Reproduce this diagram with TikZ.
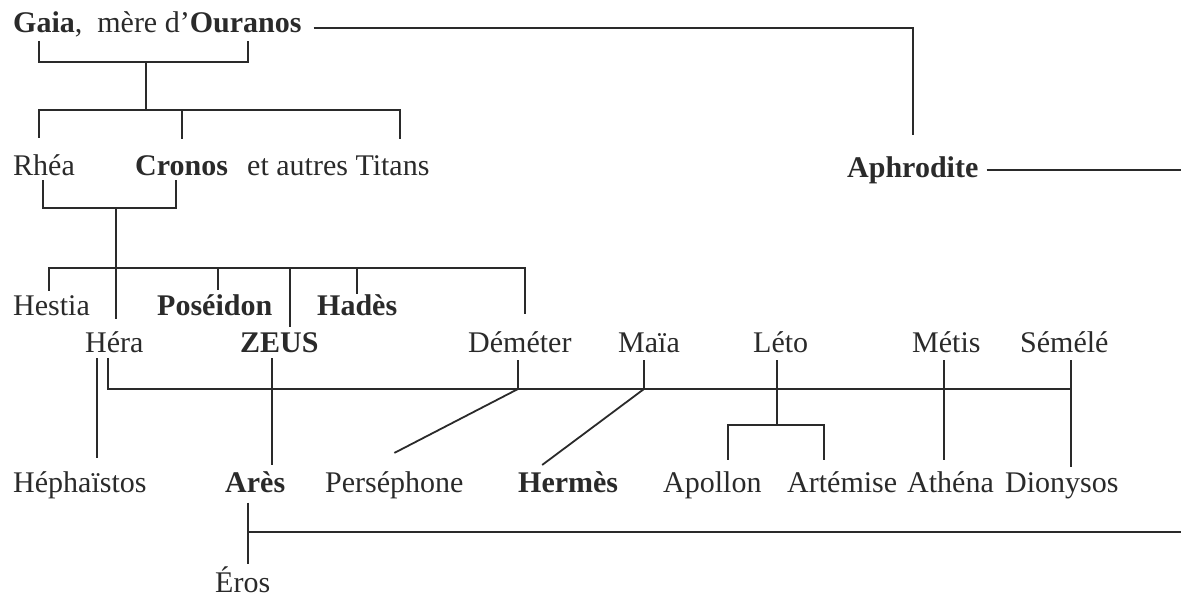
\documentclass[tikz,border=0pt]{standalone}
\usepackage{fontspec}
\setmainfont{Liberation Serif}
\definecolor{ink}{HTML}{2A2A2A}
\tikzstyle{nom}=[inner sep=0pt, anchor=base west, text=ink, font=\fontsize{30}{36}\selectfont]
\tikzstyle{lien}=[draw=ink, line width=1.8pt]

\begin{document}
\begin{tikzpicture}[x=1pt, y=-1pt]
  \useasboundingbox (0,0) rectangle (1181,600);
  \node[nom] (gaia) at (13,32) {\textbf{Gaia},\hspace{0.5em}mère d’\textbf{Ouranos}};
  \node[nom] (rhea) at (13,175) {Rhéa};
  \node[nom] (cronos) at (135,175) {\textbf{Cronos}};
  \node[nom] (titans) at (247,175) {et autres Titans};
  \node[nom] (aphrodite) at (847,177) {\textbf{Aphrodite}};
  \node[nom] (hestia) at (13,315) {Hestia};
  \node[nom] (poseidon) at (157,315) {\textbf{Poséidon}};
  \node[nom] (hades) at (317,315) {\textbf{Hadès}};
  \node[nom] (hera) at (85,352) {Héra};
  \node[nom] (zeus) at (240,352) {\textbf{ZEUS}};
  \node[nom] (demeter) at (468,352) {Déméter};
  \node[nom] (maia) at (618,352) {Maïa};
  \node[nom] (leto) at (753,352) {Léto};
  \node[nom] (metis) at (912,352) {Métis};
  \node[nom] (semele) at (1020,352) {Sémélé};
  \node[nom] (hephaistos) at (13,492) {Héphaïstos};
  \node[nom] (ares) at (225,492) {\textbf{Arès}};
  \node[nom] (persephone) at (325,492) {Perséphone};
  \node[nom] (hermes) at (518,492) {\textbf{Hermès}};
  \node[nom] (apollon) at (663,492) {Apollon};
  \node[nom] (artemise) at (787,492) {Artémise};
  \node[nom] (athena) at (907,492) {Athéna};
  \node[nom] (dionysos) at (1005,492) {Dionysos};
  \node[nom] (eros) at (215,592) {Éros};

  \coordinate (u1) at (39,62);  \coordinate (u2) at (248,62);  \coordinate (um) at (146,62);
  \coordinate (t1) at (39,110); \coordinate (t2) at (182,110); \coordinate (t3) at (400,110); \coordinate (tm) at (146,110);
  \coordinate (r1) at (43,208); \coordinate (r2) at (176,208); \coordinate (rm) at (116,208);
  \coordinate (c1) at (49,268); \coordinate (c2) at (218,268); \coordinate (c3) at (290,268);
  \coordinate (c4) at (357,268); \coordinate (c5) at (525,268);
  \coordinate (z0) at (97,389); \coordinate (z1) at (108,389); \coordinate (z2) at (272,389);
  \coordinate (z3) at (518,389); \coordinate (z4) at (644,389); \coordinate (z5) at (777,389);
  \coordinate (z6) at (944,389); \coordinate (z7) at (1071,389);
  \coordinate (l1) at (728,425); \coordinate (l2) at (824,425); \coordinate (lm) at (777,425);
  \coordinate (e1) at (248,532); \coordinate (e2) at (1181,532);
  \coordinate (a2) at (1181,168);

  \draw[lien, shorten <=12pt, shorten >=21pt] ([yshift=-4pt]gaia.east) -| (aphrodite.north);
  \draw[lien, shorten <=4pt, shorten >=4pt] (u1 |- gaia.south) -- (u1) -- (u2) -- (u2 |- gaia.south);
  \draw[lien] (um) -- (tm);
  \draw[lien, shorten <=16pt, shorten >=16pt] (t1 |- rhea.north) -- (t1) -- (t3) -- (t3 |- titans.north);
  \draw[lien, shorten >=16pt] (t2) -- (t2 |- cronos.north);
  \draw[lien, shorten <=5pt, shorten >=5pt] (r1 |- rhea.south) -- (r1) -- (r2) -- (r2 |- cronos.south);
  \draw[lien, shorten >=12pt] (rm) -- (rm |- hera.north);
  \draw[lien, shorten <=4pt, shorten >=17pt] (c1 |- hestia.north) -- (c1) -- (c5) -- (c5 |- demeter.north);
  \draw[lien, shorten >=4pt] (c2) -- (c2 |- poseidon.north);
  \draw[lien, shorten >=5pt] (c3) -- (c3 |- zeus.north);
  \draw[lien] (c4) -- (c4 |- hades.north);
  \draw[lien, shorten <=6pt] (z1 |- hera.south) -- (z1) -- (z7);
  \draw[lien, shorten <=6pt, shorten >=13pt] (z0 |- hera.south) -- (z0 |- hephaistos.north);
  \draw[lien, shorten <=6pt, shorten >=6pt] (z2 |- zeus.south) -- (z2 |- ares.north);
  \draw[lien, shorten <=8pt] (z3 |- demeter.south) -- (z3);
  \draw[lien, shorten <=8pt] (z4 |- maia.south) -- (z4);
  \draw[lien, shorten <=8pt] (z5 |- leto.south) -- (lm);
  \draw[lien, shorten <=8pt, shorten >=11pt] (z6 |- metis.south) -- (z6 |- athena.north);
  \draw[lien, shorten <=8pt, shorten >=5pt] (z7 |- semele.south) -- (z7 |- dionysos.north);
  \draw[lien] (z3) -- ([yshift=18pt]persephone.north);
  \draw[lien] (z4) -- ([xshift=-26pt,yshift=6pt]hermes.north);
  \draw[lien, shorten <=11pt, shorten >=11pt] (l1 |- apollon.north) -- (l1) -- (l2) -- (l2 |- artemise.north);
  \draw[lien, shorten <=10pt, shorten >=2pt] (e1 |- ares.south) -- (e1 |- eros.north);
  \draw[lien] (e1) -- (e2);
  \draw[lien, shorten <=8pt] (aphrodite.east) -- (aphrodite.east -| a2);
\end{tikzpicture}
\end{document}
